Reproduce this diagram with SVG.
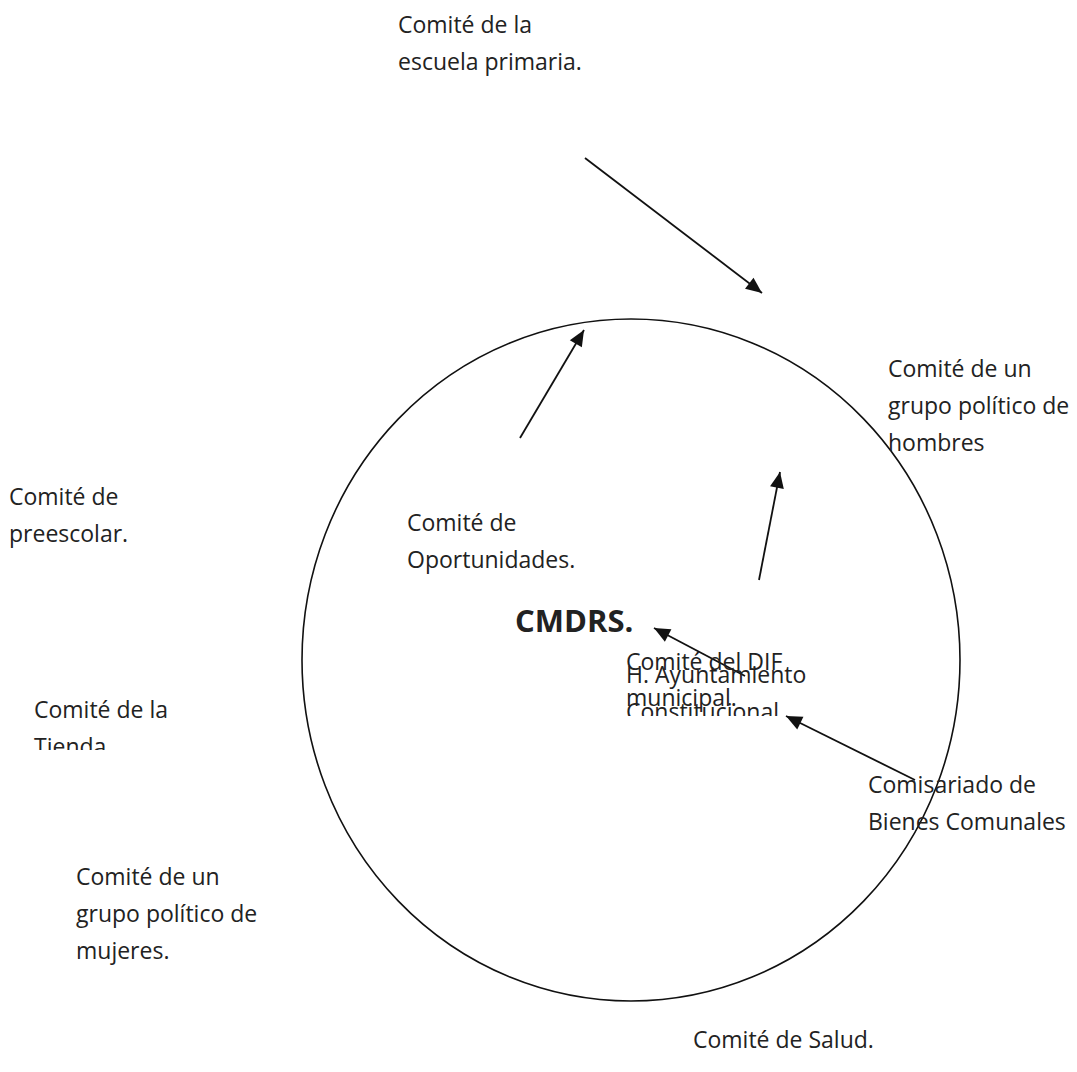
<svg xmlns="http://www.w3.org/2000/svg" width="1077" height="1072" viewBox="0 0 1077 1072">
<style>
.t{font-family:"Open Sans","Noto Sans",sans-serif;font-size:23px;fill:#222}
.b{font-family:"Open Sans","Noto Sans",sans-serif;font-size:31px;font-weight:bold;fill:#222}
.c{stroke:#111;stroke-width:1.6;fill:none}
.a{stroke:#111;stroke-width:1.8;fill:none}
</style>
<defs>
<marker id="ah" viewBox="0 0 10 10" refX="10" refY="5" markerWidth="10" markerHeight="10" markerUnits="userSpaceOnUse" orient="auto" overflow="visible">
<path d="M-6,-2 L10,5 L-6,12 Z" fill="#111"/>
</marker>
<clipPath id="clipT"><rect x="0" y="680" width="300" height="70"/></clipPath>
<clipPath id="clipA"><rect x="600" y="660" width="260" height="56"/></clipPath>
</defs>
<rect width="1077" height="1072" fill="#fff"/>
<g id="circle"><ellipse cx="631" cy="660" rx="329" ry="341" class="c"/></g>
<g id="connectors">
<line x1="585" y1="158" x2="762" y2="293" class="a" marker-end="url(#ah)"/>
<line x1="520" y1="438" x2="584" y2="330" class="a" marker-end="url(#ah)"/>
<line x1="759" y1="580" x2="780" y2="472" class="a" marker-end="url(#ah)"/>
<line x1="745" y1="676" x2="654" y2="628" class="a" marker-end="url(#ah)"/>
<line x1="915" y1="780" x2="786" y2="716" class="a" marker-end="url(#ah)"/>
</g>
<g id="n-primaria"><text class="t" x="398" y="33">Comité de la</text><text class="t" x="398" y="70">escuela primaria.</text></g>
<g id="n-hombres"><text class="t" x="888" y="377">Comité de un</text><text class="t" x="888" y="414">grupo político de</text><text class="t" x="888" y="451">hombres</text></g>
<g id="n-preescolar"><text class="t" x="9" y="505">Comité de</text><text class="t" x="9" y="542">preescolar.</text></g>
<g id="n-oportunidades"><text class="t" x="407" y="531">Comité de</text><text class="t" x="407" y="568">Oportunidades.</text></g>
<g id="n-cmdrs"><text class="b" x="515" y="632">CMDRS.</text></g>
<g id="n-dif"><text class="t" x="626" y="670">Comité del DIF</text><text class="t" x="626" y="706">municipal.</text></g>
<g id="n-ayuntamiento" clip-path="url(#clipA)"><text class="t" x="626" y="683">H. Ayuntamiento</text><text class="t" x="626" y="720">Constitucional</text></g>
<g id="n-tienda" clip-path="url(#clipT)"><text class="t" x="34" y="718">Comité de la</text><text class="t" x="34" y="755">Tienda</text></g>
<g id="n-comisariado"><text class="t" x="868" y="793">Comisariado de</text><text class="t" x="868" y="830">Bienes Comunales</text></g>
<g id="n-mujeres"><text class="t" x="76" y="885">Comité de un</text><text class="t" x="76" y="922">grupo político de</text><text class="t" x="76" y="959">mujeres.</text></g>
<g id="n-salud"><text class="t" x="693" y="1048">Comité de Salud.</text></g>
</svg>
